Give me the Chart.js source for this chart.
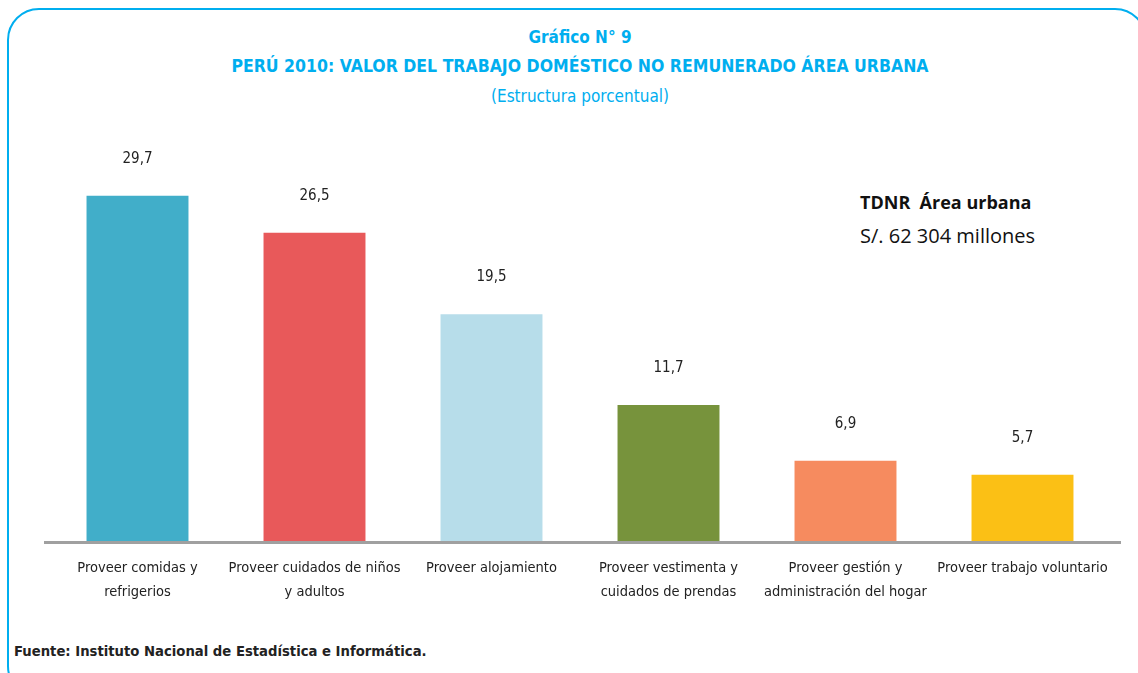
<!DOCTYPE html>
<html>
<head>
<meta charset="utf-8">
<script src="https://cdn.jsdelivr.net/npm/chart.js@4"></script>
<style>
  html, body { margin: 0; padding: 0; background: #fff; }
  body { width: 1138px; height: 673px; position: relative; overflow: hidden;
         font-family: 'Liberation Sans Narrow', 'DejaVu Sans Condensed', sans-serif; }
  #frame { position: absolute; left: 7px; top: 8px; width: 1140px; height: 690px;
           border: 2px solid #00AEEF; border-radius: 32px; box-sizing: border-box; }
  .title { position: absolute; left: 0; width: 1160px; text-align: center; color: #00AEEF; font-size: 17px; }
  #t1 { top: 27px; font-weight: bold; }
  #t2 { top: 56px; font-weight: bold; font-size: 17.5px; }
  #t3 { top: 86px; }
  #note { position: absolute; left: 860px; top: 190px; font-family: 'Open Sans', sans-serif; color: #111; }
  #note .b { font-weight: bold; font-size: 18px; }
  #note .n { font-size: 20px; margin-top: 8px; }
  #src { position: absolute; left: 14px; top: 642px; font-weight: bold; font-size: 14.7px; color: #222; }
  #wrap { position: absolute; left: 0; top: 0; width: 1138px; height: 673px; }
</style>
</head>
<body>
<div id="frame"></div>
<div class="title" id="t1">Gráfico N° 9</div>
<div class="title" id="t2">PERÚ 2010: VALOR DEL TRABAJO DOMÉSTICO NO REMUNERADO ÁREA URBANA</div>
<div class="title" id="t3">(Estructura porcentual)</div>
<div id="note"><div class="b">TDNR&nbsp; Área urbana</div><div class="n">S/. 62 304 millones</div></div>
<div id="src">Fuente: Instituto Nacional de Estadística e Informática.</div>
<div id="wrap"><canvas id="chart" width="1138" height="673"></canvas></div>
<script>
// categorías (etiquetas en dos líneas)
const categories = [
    ['Proveer comidas y', 'refrigerios'],
    ['Proveer cuidados de niños', 'y adultos'],
    ['Proveer alojamiento'],
    ['Proveer vestimenta y', 'cuidados de prendas'],
    ['Proveer gestión y', 'administración del hogar'],
    ['Proveer trabajo voluntario']
];
const values = [29.7, 26.5, 19.5, 11.7, 6.9, 5.7];
const barColors = ['#41AEC9', '#E8595A', '#B7DDEA', '#77933C', '#F68B5F', '#FBC015'];

const FONT = "'Liberation Sans Narrow', 'DejaVu Sans Condensed', sans-serif";

// etiquetas de valor encima de cada barra
const valueLabels = {
    id: 'valueLabels',
    afterDatasetsDraw(chart) {
        const ctx = chart.ctx;
        const meta = chart.getDatasetMeta(0);
        ctx.save();
        ctx.font = '15px ' + FONT;
        ctx.fillStyle = '#222';
        ctx.textAlign = 'center';
        ctx.textBaseline = 'middle';
        meta.data.forEach((bar, i) => {
            ctx.fillText(values[i].toFixed(1).replace('.', ','), bar.x, bar.y - 37);
        });
        ctx.restore();
    }
};

// línea del eje un poco más larga que el área de las categorías
const axisLine = {
    id: 'axisLine',
    afterDatasetsDraw(chart) {
        const ctx = chart.ctx;
        const y = chart.scales.x.top + 1.5;
        ctx.save();
        ctx.strokeStyle = '#A0A0A0';
        ctx.lineWidth = 3;
        ctx.beginPath();
        ctx.moveTo(chart.chartArea.left - 5, y);
        ctx.lineTo(chart.chartArea.right + 10, y);
        ctx.stroke();
        ctx.restore();
    }
};

new Chart(document.getElementById('chart'), {
    type: 'bar',
    data: {
        labels: categories,
        datasets: [{
            data: values,
            backgroundColor: barColors,
            borderWidth: 0,
            categoryPercentage: 1,
            barPercentage: 0.576
        }]
    },
    options: {
        responsive: false,
        animation: false,
        layout: { padding: { left: 49, right: 27, top: 134, bottom: 0 } },
        plugins: { legend: { display: false }, tooltip: { enabled: false } },
        scales: {
            y: { display: false, min: 0, max: 35 },
            x: {
                afterFit: scale => { scale.height = 132; },
                grid: { display: false, drawTicks: false },
                border: { display: false },
                ticks: {
                    color: '#222',
                    padding: 15,
                    maxRotation: 0,
                    autoSkip: false,
                    font: { family: FONT, size: 14.5, lineHeight: 1.655 }
                }
            }
        }
    },
    plugins: [valueLabels, axisLine]
});
</script>
</body>
</html>
